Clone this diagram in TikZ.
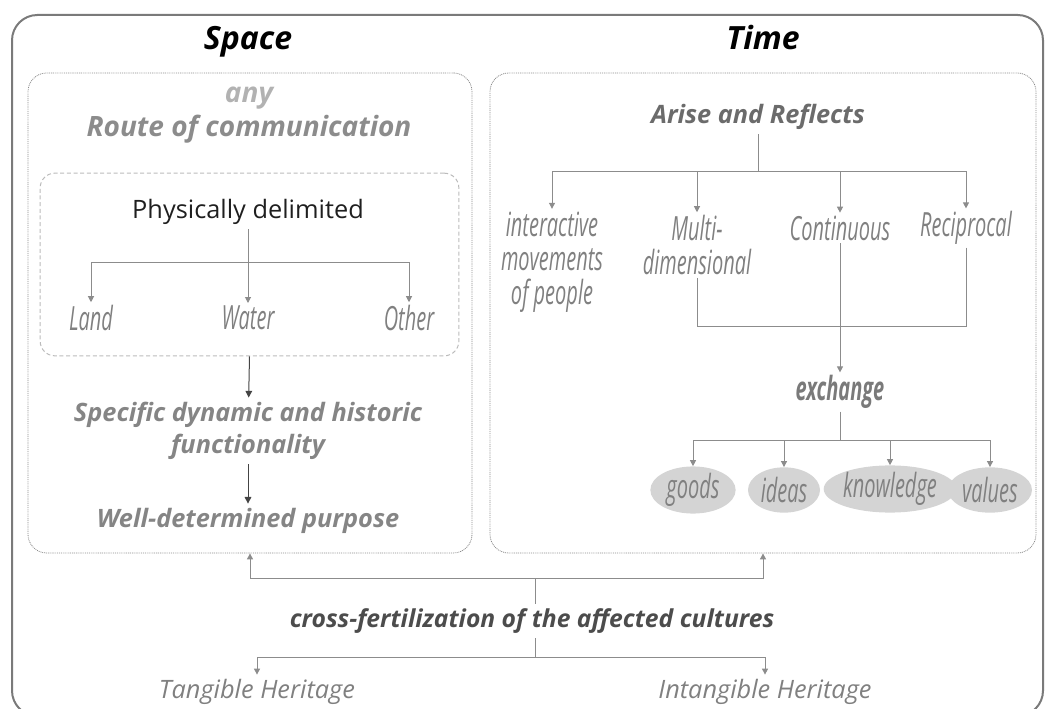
\documentclass[tikz,border=0pt]{standalone}
\usepackage{fontspec}
\setmainfont{Open Sans}
\newfontfamily\condfont[FakeStretch=0.6]{Open Sans}
\usetikzlibrary{arrows.meta,shapes.geometric}

\definecolor{framegray}{HTML}{7A7A7A}
\definecolor{boxgray}{HTML}{8C8C8C}
\definecolor{dashgray}{HTML}{BBBBBB}
\definecolor{linegray}{HTML}{8C8C8C}
\definecolor{darkline}{HTML}{444444}
\definecolor{ovalfill}{HTML}{D4D4D4}

\tikzset{
  conn/.style={draw=linegray, line width=0.75pt},
  arr/.style={conn, -{Triangle[length=4.5pt,width=4.5pt]}},
  darr/.style={draw=darkline, line width=0.75pt, -{Triangle[length=5pt,width=5pt]}},
  dotbox/.style={draw=boxgray, line width=0.6pt, dash pattern=on 0.7pt off 0.7pt, rounded corners=14pt, inner sep=0pt},
  dashbox/.style={draw=dashgray, line width=0.75pt, dash pattern=on 3pt off 2pt, rounded corners=11pt, inner sep=0pt},
  title/.style={font=\fontsize{24}{28}\selectfont\bfseries\itshape, anchor=base},
  head/.style={font=\fontsize{19}{24}\selectfont\bfseries\itshape, align=center},
  phys/.style={font=\fontsize{19}{22}\selectfont, text=black!88},
  cond/.style={font=\condfont\fontsize{25}{25.5}\selectfont\itshape, text=black!50, align=center, inner sep=2pt},
  oval/.style={ellipse, fill=ovalfill, inner sep=0pt, minimum height=34pt,
    font=\condfont\fontsize{25}{26}\selectfont\itshape, text=black!50},
}

\begin{document}
\begin{tikzpicture}[x=0.75pt,y=0.75pt,yscale=-1,xscale=1]
\useasboundingbox (0,0) rectangle (1046,709);

%Shape: Outer frame
\begin{scope}
\clip (0,0) rectangle (1046,709);
\draw [draw=framegray, line width=1.5pt, rounded corners=19pt] (12,15) rectangle (1043,716);
\end{scope}

%Shape: Space and Time boxes
\node [dotbox, minimum width=333pt, minimum height=360pt] (spbox) at (250,313) {};
\node [dotbox, minimum width=409.5pt, minimum height=360pt] (tmbox) at (763,313) {};
\node [dashbox, minimum width=314pt, minimum height=137pt] (pbox) at (249.5,264.5) {};

% Text Node
\node [title] (space) at (248,50) {Space};
% Text Node
\node [title] (time) at (763,50) {Time};

% Text Node
\node [head, font=\fontsize{21}{24}\selectfont\bfseries\itshape, text=black!30] (any) at (249,98) {any};
% Text Node
\node [head, font=\fontsize{21}{24}\selectfont\bfseries\itshape, text=black!45] (route) at (249,129) {Route of communication};
% Text Node
\node [phys] (phys) at (248,212) {Physically delimited};
% Text Node
\node [cond] (land) at (91,318) {Land};
% Text Node
\node [cond] (water) at (248,318) {Water};
% Text Node
\node [cond] (other) at (409,318) {Other};
% Text Node
\node [head, text=black!48] (spec) at (248,431) {Specific dynamic and historic\\functionality};
% Text Node
\node [head, text=black!48] (well) at (248,521) {Well-determined purpose};

% Text Node
\node [head, text=black!58] (arise) at (758,117) {Arise and Reflects};
% Text Node
\node [cond] (inter) at (552,262) {interactive\\movements\\of people};
% Text Node
\node [cond] (multi) at (697,245) {Multi-\\dimensional};
% Text Node
\node [cond] (cont) at (840,228) {Continuous};
% Text Node
\node [cond] (recip) at (966,228) {Reciprocal};
% Text Node
\node [cond, font=\condfont\fontsize{25}{26}\selectfont\bfseries\itshape, text=black!52] (exch) at (840,392) {exchange};

%Shape: Ellipses
\node [oval, minimum width=64pt] (goods) at (693,490) {goods};
\node [oval, minimum width=54pt] (ideas) at (784,490) {ideas};
\node [oval, minimum width=82pt] (know) at (890,489) {knowledge};
\node [oval, minimum width=63pt] (values) at (990,490) {values};

% Text Node
\node [head, font=\fontsize{18.5}{24}\selectfont\bfseries\itshape, text=black!70] (cross) at (532,621) {cross-fertilization of the affected cultures};
% Text Node
\node [head, font=\fontsize{19}{24}\selectfont\itshape, text=black!50] (tang) at (257,692) {Tangible Heritage};
% Text Node
\node [head, font=\fontsize{19}{24}\selectfont\itshape, text=black!50] (intang) at (765,692) {Intangible Heritage};

%Straight Lines: Physically delimited
\coordinate (pdsplit) at (248,263);
\draw [arr] (phys) -- (water);
\draw [arr] (pdsplit) -| (land);
\draw [arr] (pdsplit) -| (other);
\draw [darr] (pbox.south) -- (spec);
\draw [darr] (spec) -- (well);

%Straight Lines: Arise and Reflects
\coordinate (arsplit) at (758,172);
\draw [conn] (arise) -- (arsplit);
\draw [arr] (arsplit) -| (inter.north);
\draw [arr] (arsplit) -| (multi.north);
\draw [arr] (arsplit) -| (cont.north);
\draw [arr] (arsplit) -| (recip.north);

%Straight Lines: merge into exchange
\coordinate (mrg) at (840,327);
\draw [conn] (multi) |- (mrg);
\draw [conn] (recip) |- (mrg);
\draw [arr] (cont) -- (exch);

%Straight Lines: exchange
\coordinate (exsplit) at (840,440);
\draw [conn] (exch) -- (exsplit);
\draw [arr] (exsplit) -| (goods);
\draw [arr] (exsplit) -| (ideas);
\draw [arr] (exsplit) -| (know);
\draw [arr] (exsplit) -| (values);

%Straight Lines: cross-fertilization
\coordinate (upsplit) at (535,578);
\coordinate (dnsplit) at (535,657);
\draw [conn] (cross.north -| upsplit) -- (upsplit);
\draw [arr] (upsplit) -| (spbox.south);
\draw [arr] (upsplit) -| (tmbox.south);
\draw [conn] (cross.south -| dnsplit) -- (dnsplit);
\draw [arr] (dnsplit) -| (tang);
\draw [arr] (dnsplit) -| (intang);

\end{tikzpicture}
\end{document}
